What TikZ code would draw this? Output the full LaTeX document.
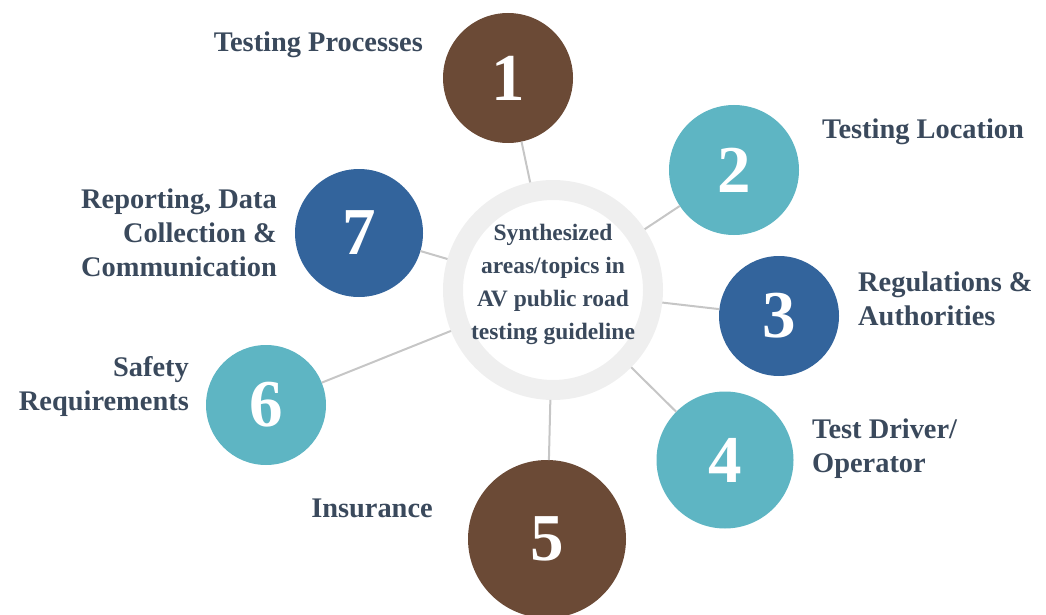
\documentclass[tikz,border=0pt]{standalone}
\usepackage{fontspec}
\setmainfont{Liberation Serif}
\definecolor{cbrown}{HTML}{6B4A36}
\definecolor{cteal}{HTML}{5EB5C3}
\definecolor{cblue}{HTML}{33649C}
\definecolor{ctext}{HTML}{3A495C}
\definecolor{cring}{HTML}{EFEFEF}
\definecolor{cline}{HTML}{C6C6C6}
\tikzset{
  numcirc/.style={circle, inner sep=0pt, outer sep=0pt, text=white,
    font=\bfseries\fontsize{67}{67}\selectfont},
  lbl/.style={text=ctext, font=\bfseries\fontsize{28.4}{34}\selectfont, inner sep=0pt},
  conn/.style={draw=cline, line width=2pt},
}
\begin{document}
\begin{tikzpicture}[x=1pt,y=-1pt]
\useasboundingbox (0,0) rectangle (1046,615);
% central ring
\node[circle, draw=cring, line width=20pt, minimum size=200pt, inner sep=0pt, outer sep=10pt] (ring) at (553,290) {};
\node[text=ctext, font=\bfseries\fontsize{23.5}{33}\selectfont, align=center, inner sep=0pt] (ctext) at (553,284)
  {Synthesized\\areas/topics in\\AV public road\\testing guideline};
% numbered circles
\node[numcirc, fill=cbrown, minimum size=130pt] (c1) at (508,78) {1};
\node[numcirc, fill=cteal, minimum size=130pt] (c2) at (734,170) {2};
\node[numcirc, fill=cblue, minimum size=120pt] (c3) at (779,316) {3};
\node[numcirc, fill=cteal, minimum size=137pt] (c4) at (725,460) {4};
\node[numcirc, fill=cbrown, minimum size=158pt] (c5) at (547,539) {5};
\node[numcirc, fill=cteal, minimum size=120pt] (c6) at (266,405) {6};
\node[numcirc, fill=cblue, minimum size=128pt] (c7) at (359,233) {7};
% connectors
\foreach \c in {c1,c2,c3,c4,c5,c6,c7}
  \draw[conn] (\c) -- (ring);
% labels
\node[lbl, anchor=east] (l1) at (423,45) {Testing Processes};
\node[lbl, anchor=west] (l2) at (822,132) {Testing Location};
\node[lbl, anchor=west, align=left] (l3) at (858,299) {Regulations \&\\Authorities};
\node[lbl, anchor=west, align=left] (l4) at (812,449) {Test Driver/\\Operator};
\node[lbl] (l5) at (372,508) {Insurance};
\node[lbl, anchor=east, align=right] (l6) at (189,387) {Safety\\Requirements};
\node[lbl, anchor=east, align=right] (l7) at (277,233) {Reporting, Data\\Collection \&\\Communication};
\end{tikzpicture}
\end{document}
